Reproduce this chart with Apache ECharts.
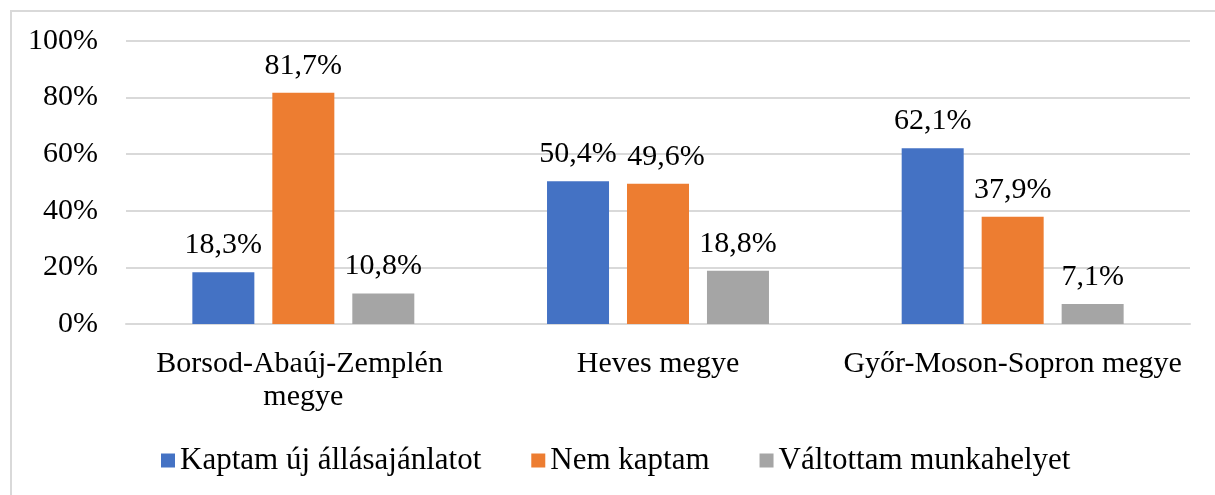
<!DOCTYPE html>
<html>
<head>
<meta charset="utf-8">
<script src="https://cdn.jsdelivr.net/npm/echarts@6/dist/echarts.min.js"></script>
<style>
  html, body { margin: 0; padding: 0; background: #fff; }
  .frame {
    position: absolute; left: 10px; top: 10px; width: 1215px; height: 495px;
    border-left: 2px solid #d9d9d9; border-top: 2px solid #d9d9d9;
  }
  .chartsdom { position: absolute; left: 0; top: 0; width: 1215px; height: 495px; }
</style>
</head>
<body>
<div class="frame"></div>
<div class="chartsdom" id="chart"></div>
<script>
const categories = ['Borsod-Abaúj-Zemplén megye', 'Heves megye', 'Győr-Moson-Sopron megye']
const seriesNames = ['Kaptam új állásajánlatot', 'Nem kaptam', 'Váltottam munkahelyet']
const kaptam = [18.3, 50.4, 62.1]
const nemKaptam = [81.7, 49.6, 37.9]
const valtottam = [10.8, 18.8, 7.1]
const yTicks = [0, 20, 40, 60, 80, 100]

const font = '"Liberation Serif", "DejaVu Serif", serif'
const colors = ['#4472C4', '#ED7D31', '#A5A5A5']

const chart = echarts.init(document.getElementById('chart'))

function makeSeries(name, data, i) {
  return {
    name: name,
    type: 'bar',
    // nudge the Heves orange label right a bit so it doesn't touch the blue one
    data: data.map((v, j) => (i === 1 && j === 1) ? { value: v, label: { offset: [8, 0] } } : v),
    barWidth: 62,
    barGap: '29%',
    itemStyle: { color: colors[i] },
    label: {
      show: true,
      position: 'top',
      distance: 12,
      color: '#000',
      fontFamily: font,
      fontSize: 30,
      formatter: p => p.value.toFixed(1).replace('.', ',') + '%'
    }
  }
}

let option = {
  animation: false,
  backgroundColor: 'transparent',
  grid: { left: 126, right: 25, top: 41, bottom: 171 },
  legend: {
    bottom: 14,
    left: 156,
    itemWidth: 14,
    itemHeight: 14,
    itemGap: 50,
    icon: 'rect',
    textStyle: { fontFamily: font, fontSize: 31, color: '#000' },
    data: seriesNames
  },
  xAxis: {
    type: 'category',
    data: categories,
    axisLine: { show: true, lineStyle: { color: '#d9d9d9', width: 2 } },
    axisTick: { show: false },
    axisLabel: {
      interval: 0,
      margin: 24,
      color: '#000',
      fontFamily: font,
      fontSize: 30,
      lineHeight: 33,
      width: 360,
      overflow: 'break'
    }
  },
  yAxis: {
    type: 'value',
    min: yTicks[0],
    max: yTicks[yTicks.length - 1],
    interval: 20,
    axisLine: { show: false },
    axisTick: { show: false },
    splitLine: { lineStyle: { color: '#d9d9d9', width: 2 } },
    axisLabel: {
      margin: 28,
      color: '#000',
      fontFamily: font,
      fontSize: 30,
      formatter: v => v + '%'
    }
  },
  series: [
    makeSeries(seriesNames[0], kaptam, 0),
    makeSeries(seriesNames[1], nemKaptam, 1),
    makeSeries(seriesNames[2], valtottam, 2)
  ]
}
chart.setOption(option)
</script>
</body>
</html>
